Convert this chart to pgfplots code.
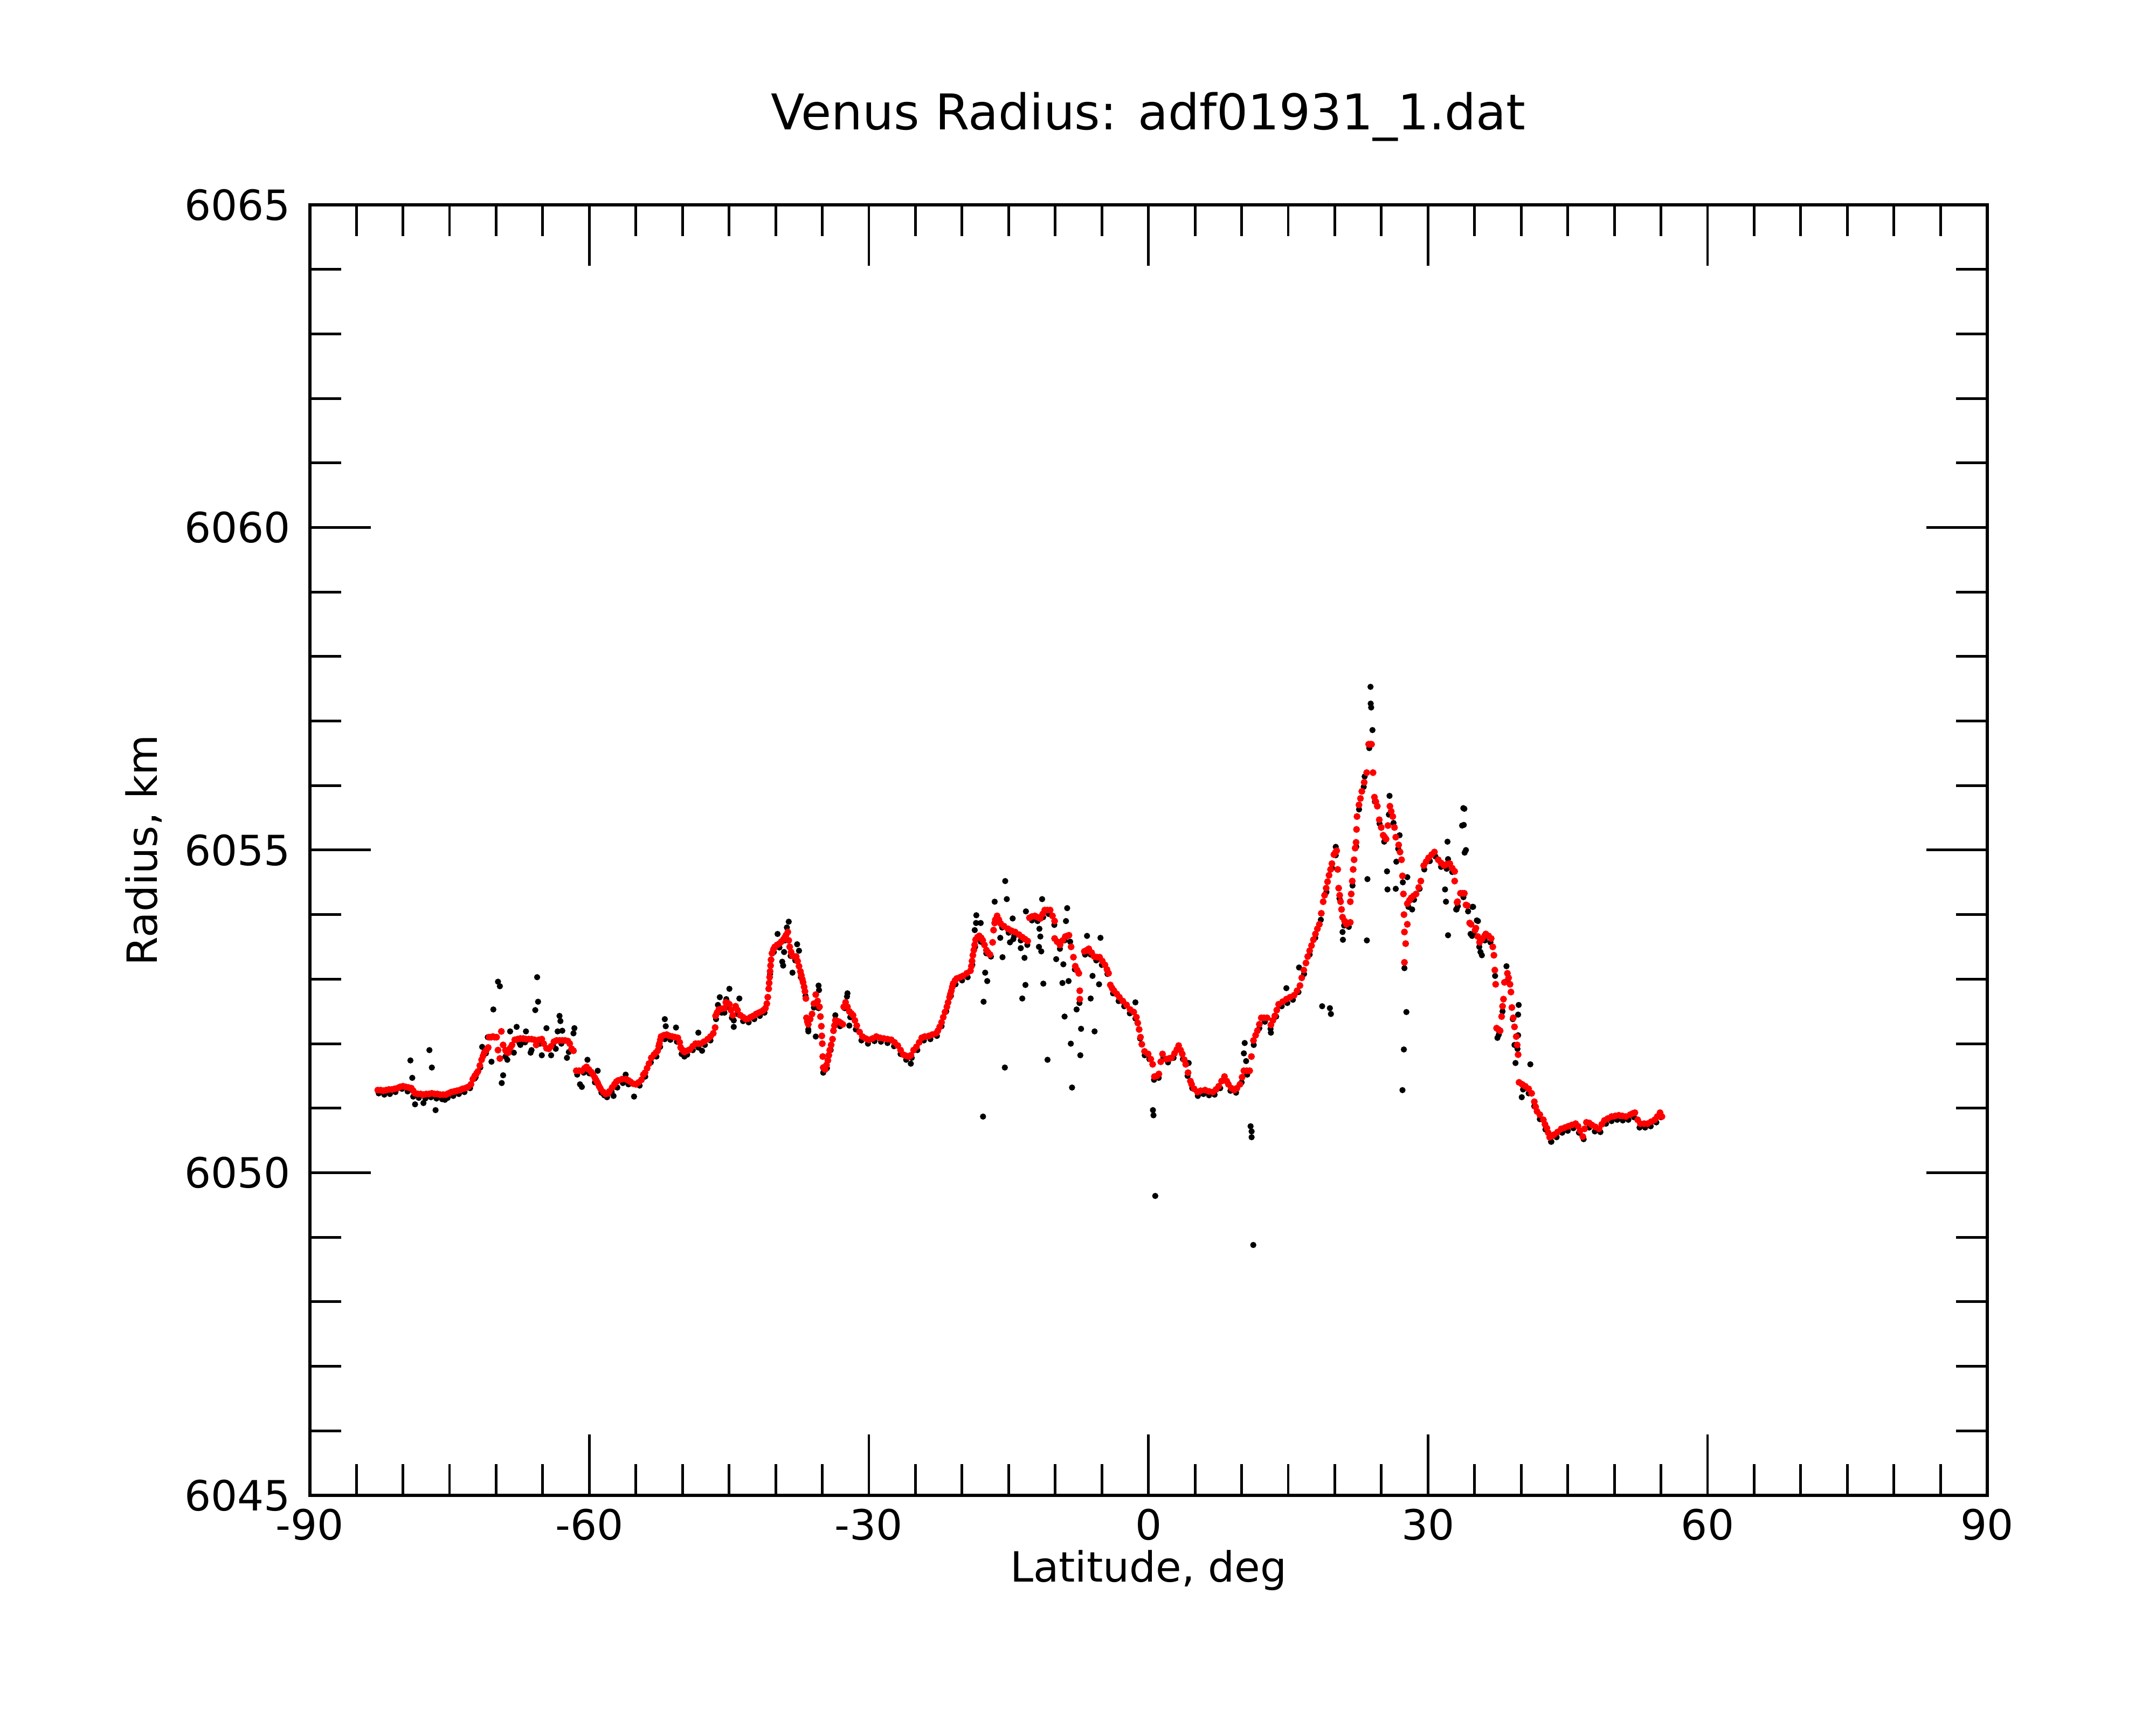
\documentclass[border=0pt]{standalone}
\usepackage{fontspec}
\setmainfont{DejaVu Sans}
\usepackage{pgfplots}
\pgfplotsset{compat=1.18}
\begin{document}
\begin{tikzpicture}
\useasboundingbox (-2.8735cm,-2.13cm) rectangle (17.1265cm,13.87cm);
\begin{axis}[
  at={(0,0)}, anchor=south west,
  scale only axis, width=15.56cm, height=11.97cm,
  xmin=-90, xmax=90, ymin=6045, ymax=6065,
  xtick={-90,-60,...,90}, ytick={6045,6050,...,6065},
  minor x tick num=5, minor y tick num=4,
  tick align=inside, tick pos=both,
  major tick length=0.565cm, minor tick length=0.29cm,
  tick style={black, line width=0.7pt},
  axis line style={line width=0.85pt},
  scaled ticks=false,
  /pgf/number format/1000 sep={},
  /pgf/number format/assume math mode=true,
  ticklabel style={font=\fontsize{11}{13}\selectfont},
  yticklabel style={xshift=-0.055cm},
  title={Venus Radius: adf01931\_1.dat},
  title style={at={(axis description cs:0.5,1.04064)}, anchor=base, font=\fontsize{13}{16}\selectfont},
  xlabel={Latitude, deg},
  xlabel style={at={(axis description cs:0.5,-0.06725)}, anchor=base, font=\fontsize{11}{13}\selectfont},
  ylabel={Radius, km},
  ylabel style={at={(axis description cs:-0.09094,0.5)}, anchor=base, font=\fontsize{11}{13}\selectfont},
]
% raw measurements (black)
\addplot[black, only marks, mark=*, mark size=0.6pt, mark options={line width=0.4pt, draw=black, fill=black}] coordinates {
(-82.6,6051.23) (-82.0,6051.21) (-81.4,6051.22) (-80.8,6051.25) (-80.1,6051.30) (-79.5,6051.26) (-78.9,6051.18) (-78.3,6051.16) (-77.6,6051.15) (-77.0,6051.17) (-76.4,6051.15) (-75.8,6051.14) (-75.2,6051.16) (-74.6,6051.19) (-74.0,6051.22) (-73.4,6051.25) (-72.8,6051.31) (-72.3,6051.46) (-71.7,6051.63) (-71.1,6051.85)
(-69.8,6052.96) (-69.6,6052.89) (-65.6,6053.03) (-70.3,6052.53) (-65.5,6052.65) (-65.8,6052.52) (-63.2,6052.43) (-63.1,6052.35) (-61.6,6052.24) (-61.7,6052.16) (-64.6,6052.24) (-67.8,6052.26) (-68.5,6052.19) (-66.8,6052.19) (-63.4,6052.19) (-62.9,6052.20)
(-77.16,6051.90) (-79.2,6051.74) (-76.9,6051.63) (-79.0,6051.47) (-78.7,6051.06) (-77.8,6051.08) (-76.5,6050.97) (-75.5,6051.13) (-69.25,6051.51) (-69.4,6051.39) (-70.5,6051.72) (-70.9,6052.10) (-71.5,6051.95) (-68.8,6051.75) (-69.0,6051.80) (-68.1,6051.86) (-67.4,6051.98) (-66.3,6051.86) (-66.2,6051.90) (-65.1,6051.82) (-64.1,6051.82) (-63.6,6051.92) (-62.4,6051.78) (-62.2,6051.87) (-61.0,6051.37) (-60.8,6051.33) (-72.2,6051.48)
(-67.5,6052.01) (-66.9,6052.02) (-65.3,6052.00) (-63.9,6051.98) (-63.0,6052.00)
(-60.2,6051.75) (-59.1,6051.58) (-58.4,6051.20) (-57.4,6051.19) (-55.2,6051.18) (-56.1,6051.52) (-57.0,6051.32)
(-61.3,6051.52) (-60.6,6051.55) (-60.0,6051.54) (-59.4,6051.40) (-58.7,6051.24) (-58.1,6051.17) (-57.6,6051.25) (-56.4,6051.39) (-55.8,6051.37) (-54.6,6051.35) (-54.0,6051.49) (-53.4,6051.71) (-52.8,6051.80) (-52.4,6051.95) (-51.9,6052.07) (-51.3,6052.06) (-50.6,6052.03) (-50.1,6051.84) (-49.5,6051.83) (-48.9,6051.90) (-48.3,6051.94) (-47.6,6051.98) (-47.0,6052.05) (-46.4,6052.38) (-45.8,6052.48) (-45.2,6052.57) (-44.7,6052.40) (-44.1,6052.46) (-43.5,6052.35) (-42.9,6052.33) (-42.3,6052.38) (-41.7,6052.43) (-41.2,6052.48) (-40.6,6053.08) (-40.2,6053.42) (-39.6,6053.49) (-39.0,6053.60) (-38.4,6053.36) (-37.9,6053.29) (-37.3,6053.03) (-36.8,6052.74) (-36.5,6052.22) (-35.9,6052.56) (-35.4,6052.55) (-34.9,6051.55) (-34.5,6051.62) (-34.1,6051.90) (-33.6,6052.30) (-33.1,6052.27) (-32.6,6052.55) (-32.0,6052.41) (-31.4,6052.22) (-30.8,6052.05) (-30.1,6052.00) (-29.4,6052.04) (-28.7,6052.03) (-28.0,6052.01) (-27.3,6051.96) (-26.6,6051.84) (-26.0,6051.75)
(-51.9,6052.38) (-51.8,6052.27) (-50.7,6052.25) (-48.3,6052.17) (-47.9,6051.89) (-49.8,6051.80) (-46.0,6052.72) (-46.2,6052.60) (-44.97,6052.85) (-45.3,6052.69) (-43.9,6052.70) (-44.5,6052.36) (-44.5,6052.26) (-45.5,6052.48) (-38.6,6053.89) (-38.8,6053.80) (-39.8,6053.70) (-39.1,6053.42) (-39.3,6053.27) (-39.2,6053.21) (-37.7,6053.54) (-37.5,6053.44) (-38.2,6053.10) (-37.35,6053.11) (-35.4,6052.90) (-35.35,6052.83) (-36.5,6052.19) (-35.7,6052.11) (-32.3,6052.78) (-32.35,6052.73) (-33.6,6052.44) (-32.1,6052.28) (-25.5,6051.69)
(-25.4,6051.78) (-24.8,6051.90) (-24.1,6052.05) (-23.4,6052.07) (-22.7,6052.12) (-22.2,6052.27) (-21.7,6052.50) (-21.2,6052.74) (-20.7,6052.92) (-20.0,6052.98) (-19.4,6053.03) (-18.9,6053.22) (-18.6,6053.50) (-18.0,6053.58) (-17.4,6053.40) (-16.9,6053.35) (-16.3,6053.92) (-15.7,6053.80) (-15.0,6053.72) (-14.4,6053.67) (-13.7,6053.60) (-13.0,6053.53) (-12.5,6053.91) (-11.9,6053.90) (-11.3,6053.96) (-10.7,6054.01) (-10.1,6053.84) (-9.5,6053.47) (-9.0,6053.60) (-8.4,6053.58) (-7.9,6053.15) (-7.4,6052.63) (-6.8,6053.38) (-6.2,6053.38) (-5.6,6053.29) (-5.0,6053.22) (-4.4,6053.08) (-3.8,6052.78) (-3.2,6052.66) (-2.6,6052.58) (-2.0,6052.47) (-1.4,6052.39) (-0.9,6052.08) (-0.4,6051.82) (0.1,6051.76) (0.6,6051.44) (1.1,6051.47) (1.6,6051.78) (2.1,6051.71) (2.7,6051.78) (3.2,6051.91) (3.7,6051.76) (4.2,6051.50) (4.7,6051.31)
(-15.37,6054.52) (-15.2,6054.24) (-16.5,6054.20) (-18.47,6053.99) (-18.5,6053.87) (-18.0,6053.87) (-18.64,6053.76) (-17.52,6053.10) (-17.3,6052.97) (-17.69,6052.65) (-17.75,6050.87) (-15.41,6051.63) (-15.66,6053.34) (-15.9,6053.64) (-14.57,6053.94) (-13.15,6054.05) (-14.5,6053.62) (-14.86,6053.57) (-13.7,6053.48) (-13.3,6053.33) (-13.2,6052.91) (-13.54,6052.70) (-11.41,6054.24) (-11.7,6053.78) (-11.6,6053.66) (-11.75,6053.50) (-11.5,6053.43) (-11.28,6052.93) (-10.83,6051.75) (-8.72,6054.10) (-8.85,6053.90) (-9.0,6052.42) (-9.23,6052.94) (-9.13,6053.23) (-9.9,6053.31) (-8.57,6052.97) (-8.33,6052.00) (-8.2,6051.32) (-7.23,6052.23) (-7.31,6051.82) (-7.71,6052.53) (-5.78,6052.19) (-5.15,6053.64) (-6.59,6053.67) (-6.2,6052.70) (-5.3,6052.92) (-6.0,6053.05) (0.48,6050.97) (0.54,6050.89) (0.73,6049.64) (-1.4,6052.64)
(5.3,6051.19) (5.9,6051.22) (6.5,6051.20) (7.1,6051.21) (7.7,6051.31) (8.2,6051.43) (8.8,6051.27) (9.4,6051.24) (10.0,6051.40) (10.6,6051.52) (11.3,6051.98) (11.9,6052.24) (12.5,6052.34) (13.1,6052.23) (13.7,6052.42) (14.3,6052.58) (14.9,6052.63) (15.5,6052.68) (16.1,6052.80) (16.7,6053.08) (17.3,6053.38) (17.9,6053.64) (18.5,6053.92) (19.1,6054.35) (19.7,6054.72) (20.1,6054.92) (20.5,6054.25) (21.0,6053.83) (21.5,6053.81) (21.9,6054.45) (22.3,6055.05) (22.6,6055.63) (23.1,6055.98) (23.7,6056.58) (24.3,6055.75) (24.8,6055.41) (25.3,6055.13) (25.8,6055.55) (26.3,6055.42) (26.8,6055.02) (27.3,6054.50) (27.9,6054.12) (28.5,6054.23) (29.1,6054.40) (29.6,6054.70) (30.2,6054.83) (30.8,6054.90) (31.4,6054.74) (32.0,6054.71) (32.6,6054.66) (33.2,6054.13) (33.8,6054.27) (34.3,6054.05) (34.9,6053.70) (35.5,6053.50) (36.1,6053.60) (36.7,6053.57) (37.2,6053.05) (37.6,6052.14) (38.0,6052.50) (38.6,6053.00) (39.1,6052.38) (39.6,6051.92) (40.2,6051.29) (40.8,6051.23) (41.4,6051.03) (42.0,6050.83) (42.6,6050.67) (43.2,6050.48) (43.8,6050.55) (44.4,6050.62) (45.0,6050.65) (45.6,6050.69) (46.2,6050.62) (46.7,6050.52) (47.3,6050.70) (47.9,6050.64) (48.5,6050.63) (49.1,6050.76) (49.7,6050.80) (50.3,6050.82) (50.9,6050.81) (51.5,6050.82) (52.1,6050.86) (52.7,6050.70) (53.3,6050.70) (53.9,6050.72) (54.5,6050.78) (55.0,6050.86)
(23.83,6057.53) (23.85,6057.27) (23.9,6057.21) (24.04,6056.86) (23.2,6056.14) (23.5,6054.55) (23.44,6053.60) (25.87,6055.84) (25.6,6054.67) (25.65,6054.39) (26.54,6054.40) (26.6,6054.82) (26.95,6055.23) (27.78,6054.58) (27.47,6053.17) (27.68,6052.49) (27.41,6051.91) (27.26,6051.28) (28.3,6054.08) (33.9,6055.64) (33.84,6055.39) (34.07,6055.00) (32.09,6055.13) (32.15,6054.86) (31.83,6054.39) (31.93,6054.20) (32.15,6053.68) (33.07,6054.08) (34.84,6054.12) (34.73,6053.67) (35.36,6053.90) (35.78,6053.37) (20.83,6053.73) (20.87,6053.61) (20.1,6055.05) (18.64,6052.58) (19.47,6052.55) (19.58,6052.46) (10.33,6052.01) (10.24,6051.85) (10.48,6051.73) (10.96,6050.72) (11.07,6050.64) (11.07,6050.55) (11.25,6048.88) (16.16,6053.18) (14.8,6052.86) (13.14,6052.17) (4.32,6051.70)
(33.79,6055.65) (33.66,6055.38) (33.93,6054.96) (33.02,6054.08) (34.76,6054.12) (35.24,6053.91) (34.57,6053.70) (35.63,6053.42) (38.42,6053.20) (39.73,6052.60) (39.67,6052.45) (37.45,6052.09) (39.67,6052.13) (39.28,6051.98) (39.39,6051.70) (40.98,6051.68) (40.06,6051.17) (43.24,6050.48)
};
% smoothed (red)
\addplot[red, only marks, mark=*, mark size=0.7pt, mark options={line width=0.4pt, draw=red, fill=red}] coordinates {
(-82.7,6051.28) (-82.4,6051.28) (-82.1,6051.27) (-81.8,6051.28) (-81.5,6051.29) (-81.2,6051.29) (-80.9,6051.30) (-80.6,6051.31) (-80.3,6051.33) (-80.0,6051.34) (-79.7,6051.33) (-79.4,6051.32) (-79.1,6051.31) (-78.9,6051.27) (-78.7,6051.23) (-78.4,6051.22) (-78.1,6051.22) (-77.8,6051.21) (-77.5,6051.22) (-77.2,6051.22) (-76.9,6051.23) (-76.6,6051.22) (-76.3,6051.22) (-76.0,6051.21) (-75.7,6051.21) (-75.4,6051.21) (-75.1,6051.23) (-74.8,6051.25) (-74.5,6051.26) (-74.2,6051.27) (-73.9,6051.28) (-73.6,6051.30) (-73.3,6051.31) (-73.0,6051.33) (-72.7,6051.37)
(-72.5,6051.45) (-72.3,6051.50) (-72.1,6051.54) (-71.95,6051.57) (-71.75,6051.66) (-71.56,6051.75) (-71.4,6051.81) (-71.27,6051.86) (-71.05,6051.90) (-70.85,6051.94) (-70.75,6052.10) (-70.55,6052.10) (-70.35,6052.11) (-70.15,6052.10) (-69.95,6052.10) (-69.8,6051.90) (-69.6,6051.77) (-69.44,6052.19) (-69.25,6051.98) (-69.0,6051.90) (-68.87,6051.87) (-68.7,6051.86) (-68.5,6051.93) (-68.29,6051.98) (-68.0,6052.06) (-67.7,6052.07) (-67.4,6052.08) (-67.1,6052.08) (-66.8,6052.07) (-66.5,6052.07) (-66.2,6052.07) (-65.9,6052.06) (-65.7,6051.98) (-65.4,6052.06) (-65.1,6052.07) (-64.9,6052.00) (-64.6,6051.93) (-64.35,6051.92) (-64.1,6051.96) (-63.8,6052.03) (-63.5,6052.05) (-63.2,6052.05) (-62.9,6052.05) (-62.6,6052.05) (-62.3,6052.04) (-62.1,6052.00) (-61.9,6051.92) (-61.7,6051.89)
(-61.4,6051.58) (-61.1,6051.58) (-60.8,6051.58) (-60.5,6051.62) (-60.3,6051.64) (-60.05,6051.60) (-59.8,6051.56) (-59.6,6051.52) (-59.4,6051.47) (-59.25,6051.43) (-59.1,6051.39) (-58.95,6051.34) (-58.8,6051.30) (-58.5,6051.25) (-58.25,6051.22) (-58.0,6051.23) (-57.85,6051.26) (-57.55,6051.32) (-57.3,6051.37) (-57.1,6051.41) (-56.9,6051.43) (-56.5,6051.45) (-56.1,6051.45) (-55.8,6051.43) (-55.6,6051.41) (-55.3,6051.38) (-55.0,6051.37) (-54.7,6051.40) (-54.4,6051.44) (-54.2,6051.52) (-54.02,6051.55) (-53.8,6051.62) (-53.6,6051.69) (-53.35,6051.78) (-53.06,6051.83) (-52.85,6051.86) (-52.67,6051.89) (-52.55,6051.96) (-52.48,6052.00) (-52.38,6052.06) (-52.3,6052.11) (-52.0,6052.13) (-51.7,6052.14) (-51.4,6052.12) (-51.1,6052.11) (-50.8,6052.10) (-50.5,6052.09) (-50.3,6052.02) (-50.2,6051.94) (-50.0,6051.90) (-49.8,6051.87) (-49.5,6051.89) (-49.2,6051.91) (-48.9,6051.96) (-48.6,6052.00) (-48.3,6052.00) (-48.05,6052.00) (-47.7,6052.03) (-47.3,6052.07) (-47.0,6052.11) (-46.7,6052.16) (-46.5,6052.25) (-46.45,6052.43) (-46.3,6052.48) (-46.1,6052.53) (-45.8,6052.54) (-45.5,6052.55) (-45.35,6052.64) (-45.15,6052.63) (-44.97,6052.61) (-44.8,6052.52) (-44.6,6052.44) (-44.3,6052.58) (-44.1,6052.52) (-43.8,6052.44) (-43.5,6052.41) (-43.2,6052.38) (-42.9,6052.39) (-42.7,6052.41) (-42.4,6052.43) (-42.1,6052.46) (-41.8,6052.48) (-41.5,6052.50) (-41.3,6052.52) (-41.1,6052.55) (-40.95,6052.62) (-40.85,6052.72) (-40.75,6052.85) (-40.7,6052.94) (-40.65,6053.03) (-40.6,6053.12) (-40.55,6053.21) (-40.5,6053.30) (-40.4,6053.40) (-40.25,6053.46) (-40.1,6053.50) (-39.85,6053.53) (-39.6,6053.55) (-39.4,6053.58) (-39.2,6053.61) (-39.05,6053.64) (-38.9,6053.68) (-38.7,6053.73) (-38.6,6053.60) (-38.5,6053.50) (-38.35,6053.42) (-38.2,6053.36) (-38.0,6053.35) (-37.8,6053.35) (-37.65,6053.28) (-37.5,6053.20) (-37.35,6053.12) (-37.25,6053.06) (-37.15,6053.00) (-37.06,6052.95) (-36.95,6052.88) (-36.86,6052.81) (-36.76,6052.70) (-36.7,6052.40) (-36.6,6052.34) (-36.5,6052.30) (-36.3,6052.38) (-36.1,6052.46) (-35.9,6052.62) (-35.7,6052.76) (-35.5,6052.66) (-35.3,6052.57) (-35.2,6052.42) (-35.1,6052.27) (-35.05,6052.12) (-35.0,6052.00) (-34.95,6051.80) (-34.9,6051.63) (-34.7,6051.60) (-34.55,6051.67) (-34.4,6051.74) (-34.3,6051.82) (-34.2,6051.90) (-34.05,6051.98) (-33.9,6052.07) (-33.8,6052.20) (-33.7,6052.28) (-33.6,6052.36) (-33.4,6052.35) (-33.2,6052.34) (-33.0,6052.32) (-32.8,6052.30) (-32.7,6052.57) (-32.5,6052.64) (-32.3,6052.57) (-32.1,6052.50) (-31.9,6052.47) (-31.7,6052.44) (-31.5,6052.36) (-31.3,6052.28) (-31.0,6052.18) (-30.7,6052.11) (-30.35,6052.08) (-30.0,6052.06) (-29.6,6052.08) (-29.2,6052.11) (-28.8,6052.09) (-28.4,6052.08) (-28.0,6052.07) (-27.6,6052.06) (-27.25,6052.02) (-26.9,6051.97) (-26.6,6051.90) (-26.3,6051.83) (-26.0,6051.81) (-25.7,6051.80)
(-25.49,6051.82) (-25.2,6051.90) (-24.9,6051.95) (-24.6,6052.02) (-24.33,6052.09) (-24.0,6052.11) (-23.56,6052.12) (-23.2,6052.14) (-22.79,6052.16) (-22.6,6052.20) (-22.4,6052.26) (-22.2,6052.33) (-22.02,6052.41) (-21.83,6052.49) (-21.63,6052.57) (-21.5,6052.64) (-21.34,6052.72) (-21.25,6052.77) (-21.15,6052.82) (-21.05,6052.88) (-20.96,6052.93) (-20.75,6052.98) (-20.57,6053.01) (-20.2,6053.03) (-19.9,6053.05) (-19.5,6053.09) (-19.1,6053.13) (-19.0,6053.20) (-18.93,6053.28) (-18.84,6053.37) (-18.74,6053.45) (-18.65,6053.53) (-18.55,6053.61) (-18.35,6053.65) (-18.16,6053.67) (-17.95,6053.64) (-17.78,6053.60) (-17.6,6053.53) (-17.39,6053.45) (-17.2,6053.41) (-17.0,6053.38) (-16.72,6053.57) (-16.62,6053.76) (-16.5,6053.87) (-16.43,6053.92) (-16.24,6053.98) (-16.05,6053.92) (-15.85,6053.86) (-15.5,6053.82) (-15.08,6053.78) (-14.7,6053.75) (-14.31,6053.73) (-13.9,6053.69) (-13.54,6053.65) (-13.25,6053.62) (-12.96,6053.59) (-12.77,6053.95) (-12.5,6053.97) (-12.19,6053.98) (-11.9,6053.96) (-11.61,6053.94) (-11.35,6054.01) (-11.13,6054.07) (-10.85,6054.07) (-10.55,6054.07) (-10.3,6053.98) (-10.07,6053.90) (-10.07,6053.63) (-9.8,6053.58) (-9.49,6053.53) (-9.2,6053.60) (-8.92,6053.66) (-8.7,6053.67) (-8.53,6053.68) (-8.3,6053.50) (-8.05,6053.34) (-7.85,6053.20) (-7.65,6053.14) (-7.47,6053.09) (-7.37,6052.82) (-7.37,6052.69) (-6.88,6053.43) (-6.6,6053.45) (-6.4,6053.47) (-6.1,6053.41) (-5.82,6053.35) (-5.5,6053.34) (-5.24,6053.34) (-4.95,6053.28) (-4.67,6053.22) (-4.45,6053.15) (-4.28,6053.09) (-4.09,6052.91) (-3.9,6052.86) (-3.7,6052.82) (-3.4,6052.77) (-3.12,6052.72) (-2.75,6052.66) (-2.35,6052.60) (-1.97,6052.53) (-1.58,6052.49) (-1.29,6052.41) (-1.15,6052.32) (-1.0,6052.22) (-0.85,6052.10) (-0.71,6051.99) (-0.42,6051.88) (-0.03,6051.84) (0.25,6051.76) (0.45,6051.68) (0.64,6051.49) (0.9,6051.50) (1.12,6051.53) (1.32,6051.72) (1.51,6051.84) (1.9,6051.76) (2.2,6051.77) (2.47,6051.78) (2.8,6051.85) (3.05,6051.91) (3.24,6051.97) (3.45,6051.90) (3.63,6051.84) (3.85,6051.75) (4.0,6051.68) (4.25,6051.55) (4.5,6051.42)
(4.63,6051.37) (4.9,6051.30) (5.26,6051.25) (5.6,6051.27) (6.08,6051.28) (6.5,6051.26) (6.92,6051.25) (7.25,6051.29) (7.54,6051.34) (7.85,6051.42) (8.16,6051.49) (8.4,6051.42) (8.58,6051.37) (8.9,6051.31) (9.2,6051.28) (9.5,6051.31) (9.82,6051.37) (10.05,6051.48) (10.24,6051.58) (10.55,6051.58) (10.86,6051.58) (11.05,6051.80) (11.27,6052.05) (11.5,6052.13) (11.69,6052.20) (11.9,6052.30) (12.11,6052.40) (12.4,6052.40) (12.73,6052.40) (13.14,6052.29) (13.35,6052.36) (13.56,6052.43) (13.77,6052.52) (13.97,6052.61) (14.4,6052.65) (14.8,6052.69) (15.2,6052.72) (15.63,6052.75) (15.95,6052.82) (16.26,6052.90) (16.45,6053.02) (16.67,6053.14) (16.9,6053.25) (17.09,6053.35) (17.3,6053.44) (17.5,6053.52) (17.7,6053.61) (17.92,6053.70) (18.13,6053.78) (18.34,6053.85) (18.55,6054.02) (18.75,6054.20) (18.9,6054.30) (19.07,6054.41) (19.22,6054.51) (19.38,6054.61) (19.54,6054.70) (19.69,6054.79) (19.9,6054.93) (20.05,6054.96) (20.2,6054.99) (20.31,6054.70) (20.41,6054.41) (20.52,6054.30) (20.62,6054.20) (20.72,6054.08) (20.83,6053.96) (21.05,6053.90) (21.24,6053.85) (21.45,6053.87) (21.66,6053.88) (21.66,6054.20) (21.76,6054.32) (21.87,6054.52) (21.97,6054.70) (22.07,6054.85) (22.18,6055.03) (22.28,6055.12) (22.33,6055.32) (22.38,6055.52) (22.59,6055.70) (22.75,6055.80) (22.9,6055.91) (23.15,6056.05) (23.42,6056.20) (23.63,6056.64) (23.8,6056.64) (23.94,6056.64) (24.1,6056.20) (24.25,6055.82) (24.4,6055.75) (24.56,6055.68) (24.77,6055.47) (24.98,6055.35) (25.19,6055.23) (25.35,6055.20) (25.5,6055.17) (25.7,6055.38) (25.91,6055.68) (26.05,6055.60) (26.22,6055.52) (26.4,6055.35) (26.54,6055.20) (26.85,6055.08) (27.0,6054.97) (27.16,6054.85) (27.26,6054.60) (27.36,6054.32) (27.42,6054.00) (27.47,6053.73) (27.47,6053.26) (27.6,6053.55) (27.78,6053.85) (27.78,6054.17) (28.0,6054.22) (28.2,6054.26) (28.45,6054.29) (28.72,6054.32) (29.0,6054.42) (29.23,6054.52) (29.54,6054.76) (29.8,6054.82) (30.06,6054.88) (30.4,6054.93) (30.69,6054.97) (31.1,6054.85) (31.4,6054.80) (31.72,6054.76) (32.0,6054.78) (32.34,6054.79) (32.6,6054.72) (32.86,6054.67) (32.86,6054.52) (33.12,6054.19) (33.17,6054.20) (33.48,6054.33) (33.7,6054.33) (33.9,6054.33) (34.08,6054.15) (34.21,6054.14) (34.47,6053.87) (34.62,6053.85) (35.05,6053.76) (35.14,6053.79) (35.35,6053.66) (35.53,6053.57) (35.8,6053.62) (36.07,6053.67) (36.2,6053.70) (36.5,6053.67) (36.78,6053.63) (36.95,6053.50) (37.07,6053.37) (37.17,6053.14) (37.26,6052.92) (37.36,6052.24) (37.55,6052.22) (37.74,6052.20) (37.9,6052.42) (38.0,6052.58) (38.1,6052.69) (38.2,6052.95) (38.52,6053.09) (38.65,6053.02) (38.8,6052.92) (38.9,6052.80) (39.0,6052.56) (39.15,6052.40) (39.28,6052.26) (39.47,6052.11) (39.57,6051.98) (39.67,6051.83) (39.77,6051.40) (40.1,6051.37) (40.44,6051.34) (40.8,6051.30) (41.12,6051.23) (41.41,6051.10) (41.55,6051.02) (41.7,6050.95) (42.0,6050.90) (42.38,6050.82) (42.55,6050.75) (42.76,6050.69) (42.9,6050.62) (43.05,6050.55) (43.3,6050.57) (43.53,6050.59) (43.9,6050.63) (44.3,6050.68) (44.7,6050.70) (45.07,6050.72) (45.45,6050.74) (45.84,6050.76) (46.1,6050.72) (46.32,6050.65) (46.61,6050.56) (46.8,6050.68) (47.0,6050.78) (47.3,6050.77) (47.58,6050.74) (47.95,6050.71) (48.35,6050.68) (48.65,6050.75) (48.93,6050.81) (49.3,6050.84) (49.7,6050.87) (50.1,6050.88) (50.47,6050.89) (50.85,6050.88) (51.24,6050.87) (51.7,6050.90) (52.0,6050.92) (52.2,6050.93) (52.5,6050.82) (52.79,6050.76) (53.2,6050.76) (53.56,6050.76) (53.95,6050.79) (54.33,6050.82) (54.6,6050.87) (54.9,6050.93) (55.1,6050.87)
};
\end{axis}
\end{tikzpicture}
\end{document}
